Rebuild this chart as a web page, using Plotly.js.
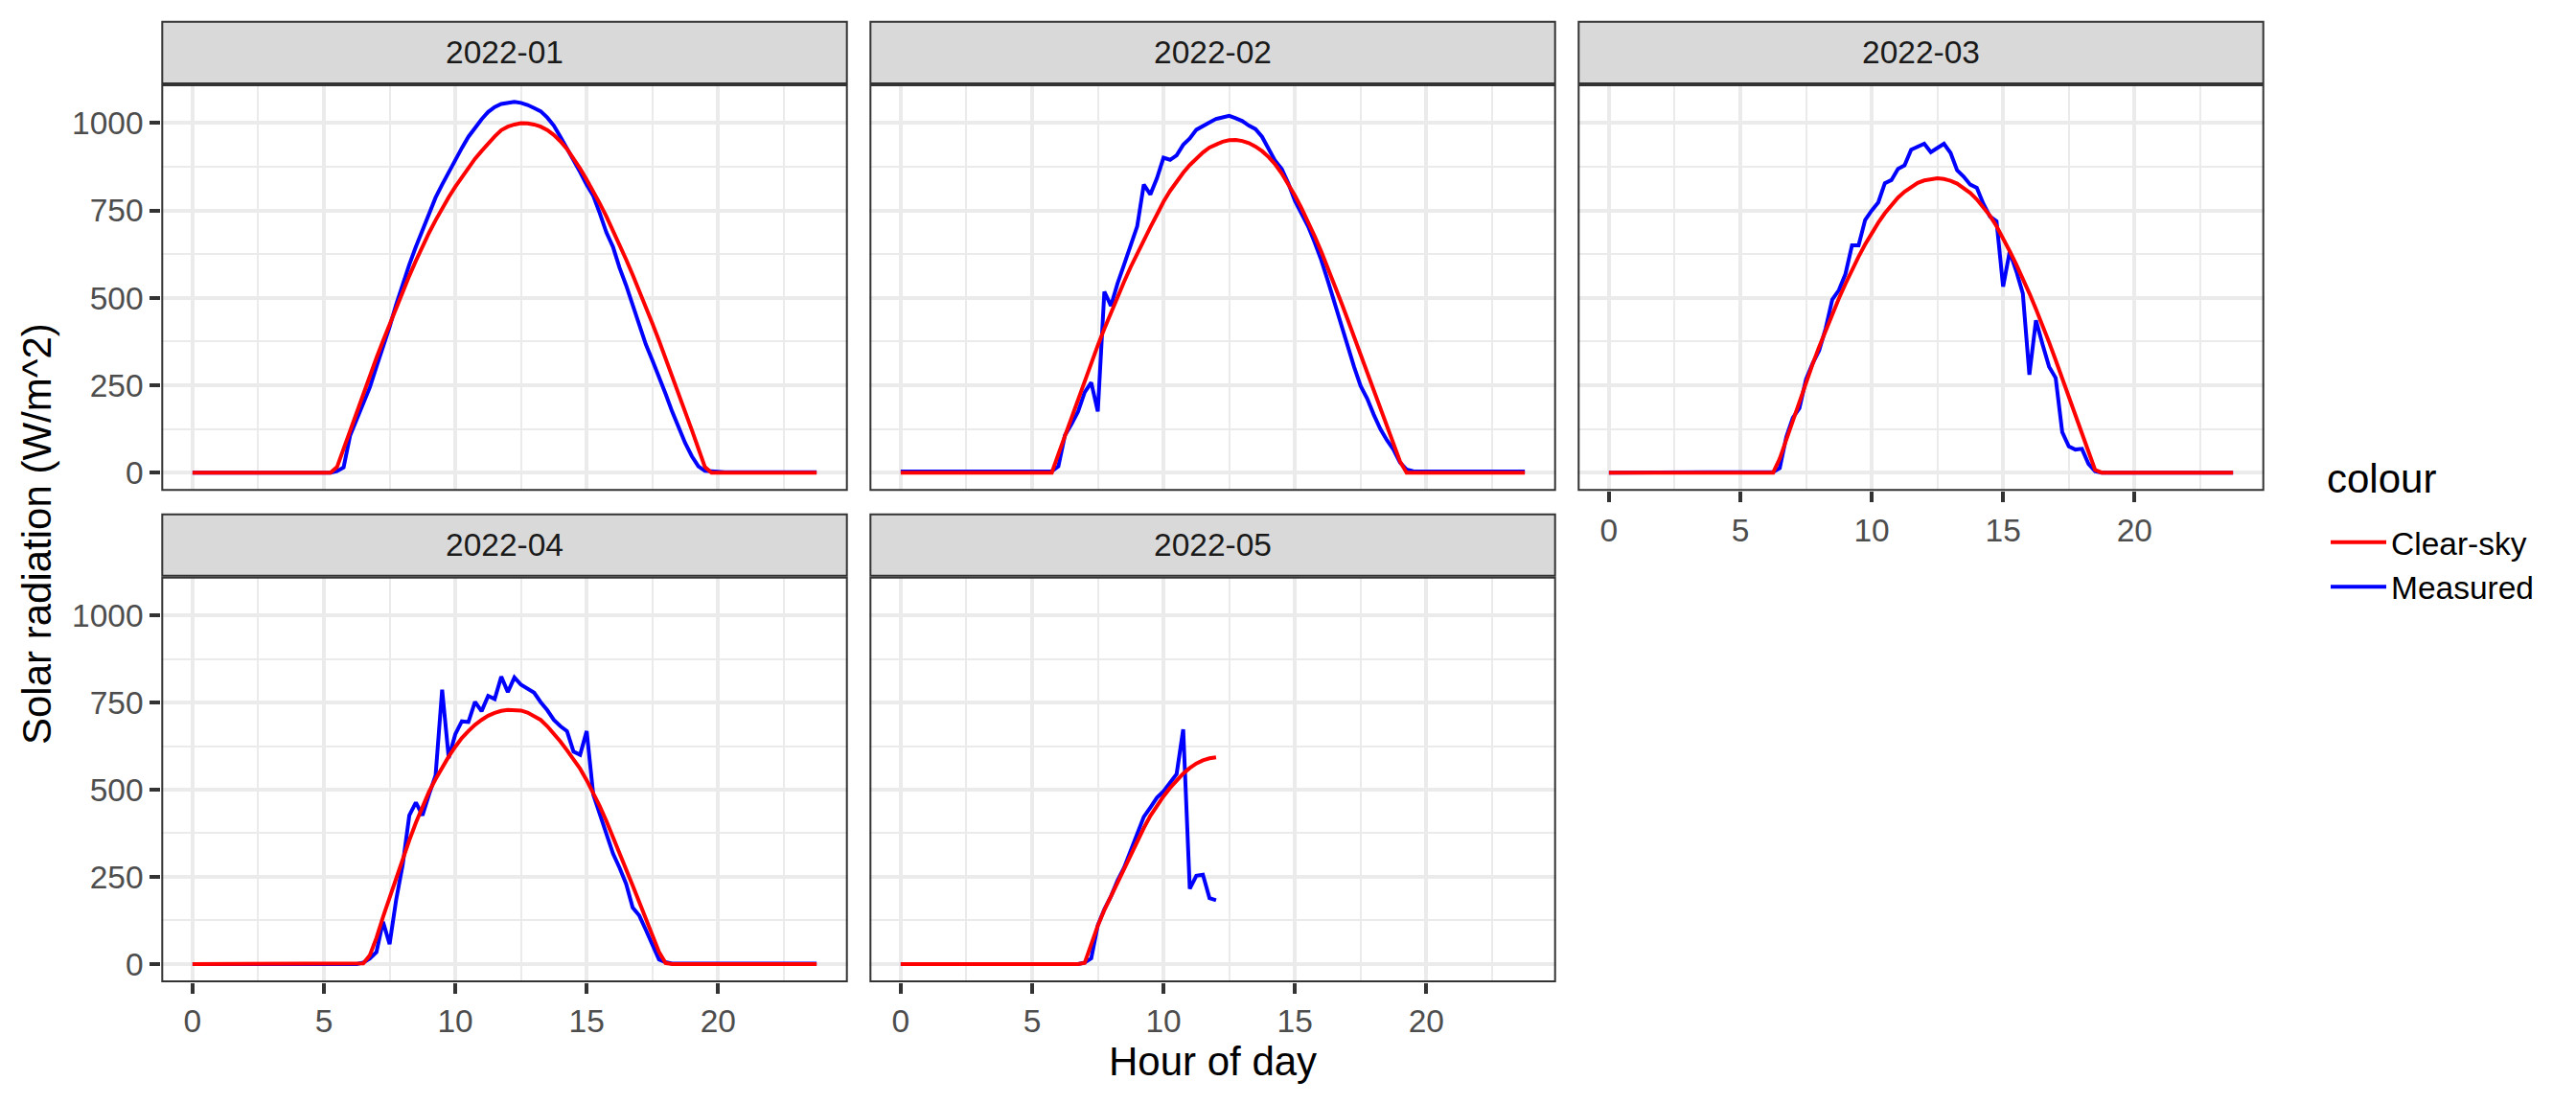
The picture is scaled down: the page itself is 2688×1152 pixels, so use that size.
<!DOCTYPE html>
<html>
<head>
<meta charset="utf-8">
<script src="https://cdn.plot.ly/plotly-3.0.1.min.js"></script>
<style>
html,body{margin:0;padding:0;background:#fff;}
#chart{width:2688px;height:1152px;}
</style>
</head>
<body>
<div id="chart"></div>
<script>
// ---------------- DATA ----------------
const hours = [0,0.25,0.5,0.75,1,1.25,1.5,1.75,2,2.25,2.5,2.75,3,3.25,3.5,3.75,4,4.25,4.5,4.75,
  5,5.25,5.5,5.75,6,6.25,6.5,6.75,7,7.25,7.5,7.75,8,8.25,8.5,8.75,9,9.25,9.5,9.75,
  10,10.25,10.5,10.75,11,11.25,11.5,11.75,12,12.25,12.5,12.75,13,13.25,13.5,13.75,14,14.25,14.5,14.75,
  15,15.25,15.5,15.75,16,16.25,16.5,16.75,17,17.25,17.5,17.75,18,18.25,18.5,18.75,19,19.25,19.5,19.75,
  20,20.25,20.5,20.75,21,21.25,21.5,21.75,22,22.25,22.5,22.75,23,23.25,23.5,23.75];

const months = ["2022-01","2022-02","2022-03","2022-04","2022-05"];
const seriesNames = ["Clear-sky","Measured"];

const jan_measured = [0,0,0,0,0,0,0,0,0,0, 0,0,0,0,0,0,0,0,0,0,
  0,0,4,15,107,153,194,244,303,358, 417,481,541,595,646,691,742,787,824,860,
  895,929,961,988,1011,1032,1046,1055,1059,1061, 1058,1052,1043,1034,1016,993,961,929,892,860,
  824,792,742,687,646,586,536,477,422,367, 321,276,226,175,130,84,47,18,5,3,
  1,1,1,1,1,1,1,1,1,1, 1,1,1,1,1,1];
const jan_clear = [0,0,0,0,0,0,0,0,0,0, 0,0,0,0,0,0,0,0,0,0,
  0,0,16,69,122,175,227,278,328,377, 425,472,518,563,606,647,686,722,756,788,
  818,845,872,898,920,942,962,980,990,996, 1000,999,996,990,980,966,948,926,900,870,
  838,805,770,733,694,653,610,566,521,474, 427,378,328,278,227,175,122,69,16,0,
  0,0,0,0,0,0,0,0,0,0, 0,0,0,0,0,0];

const feb_measured = [3,3,3,3,3,3,3,3,3,3, 3,3,3,3,3,3,3,3,3,3,
  3,3,3,4,18,107,139,175,230,258, 175,518,477,541,595,650,705,824,796,842,
  901,895,908,938,956,981,990,1002,1012,1016, 1021,1014,1006,993,983,961,929,892,869,828,
  778,742,705,659,609,550,486,431,367,303, 248,212,166,125,93,66,29,9,4,3,
  3,3,3,3,3,3,3,3,3,3, 3,3,3,3,3,3];
const feb_clear = [0,0,0,0,0,0,0,0,0,0, 0,0,0,0,0,0,0,0,0,0,
  0,0,0,0,53,106,159,211,263,314, 364,412,458,503,546,588,628,666,702,738,
  775,806,834,858,880,899,916,930,940,947, 951,952,949,943,933,920,903,882,856,826,
  793,757,718,677,633,587,539,490,440,389, 337,285,233,181,130,80,32,0,0,0,
  0,0,0,0,0,0,0,0,0,0, 0,0,0,0,0,0];

const mar_measured = [0,0,0,0,0,0,0,0,0,0, 0,0,0,0,0,0,0,0,0,0,
  0,0,0,0,0,2,13,102,157,184, 267,312,349,413,495,522,568,650,650,723,
  750,773,828,837,869,879,924,932,941,917, 929,941,915,865,847,824,815,769,733,719,
  532,632,577,513,280,436,367,303,271,116, 75,66,68,25,4,0,0,0,0,0,
  0,0,0,0,0,0,0,0,0,0, 0,0,0,0,0,0];
const mar_clear = [0,0,0,0,0,0,0,0,0,0, 0,0,0,0,0,0,0,0,0,0,
  0,0,0,0,0,0,40,95,150,205, 259,310,360,408,454,498,540,580,618,653,
  686,715,742,766,787,804,818,829,836,840, 842,840,835,827,815,800,782,760,735,705,
  672,634,596,557,513,468,422,373,322,268, 216,164,112,60,8,0,0,0,0,0,
  0,0,0,0,0,0,0,0,0,0, 0,0,0,0,0,0];

const apr_measured = [0,0,0,0,0,0,0,0,0,0, 0,0,0,0,0,0,0,0,0,0,
  0,0,0,0,0,0,4,16,34,121, 57,184,285,426,463,426,486,541,787,591,
  659,696,694,752,725,769,760,824,780,822, 801,789,778,751,728,700,682,668,609,600,
  668,486,431,376,317,276,230,162,139,98, 57,13,5,1,1,1,1,1,1,1,
  1,1,1,1,1,1,1,1,1,1, 1,1,1,1,1,1];
const apr_clear = [0,0,0,0,0,0,0,0,0,0, 0,0,0,0,0,0,0,0,0,0,
  0,0,0,0,0,0,2,25,75,135, 192,248,302,355,405,452,494,530,565,595,
  623,648,668,686,700,712,720,726,729,729, 727,721,712,700,682,661,638,613,588,560,
  527,492,452,410,365,318,270,225,178,130, 80,35,3,0,0,0,0,0,0,0,
  0,0,0,0,0,0,0,0,0,0, 0,0,0,0,0,0];

const may_measured = [0,0,0,0,0,0,0,0,0,0, 0,0,0,0,0,0,0,0,0,0,
  0,0,0,0,0,0,0,0,4,16, 111,157,194,239,276,326,372,422,449,477,
  495,522,545,673,216,253,256,189,183];
const may_clear = [0,0,0,0,0,0,0,0,0,0, 0,0,0,0,0,0,0,0,0,0,
  0,0,0,0,0,0,0,0,3,58, 110,155,195,232,270,310,350,390,425,455,
  481,505,527,546,562,575,584,590,593];

const xTickVals = [0,5,10,15,20];
const xTickText = ["0","5","10","15","20"];
const yTickVals = [0,250,500,750,1000];
const yTickText = ["0","250","500","750","1000"];

const measuredByMonth = [jan_measured, feb_measured, mar_measured, apr_measured, may_measured];
const clearByMonth = [jan_clear, feb_clear, mar_clear, apr_clear, may_clear];

// ---------------- LAYOUT ----------------
const W = 2688, H = 1152;
const FONT = "Liberation Sans, Arial, Helvetica, sans-serif";
const cols = [[168.3, 884.7], [907.3, 1623.7], [1646.3, 2362.7]];
const rowsPlot = [[88, 512.3], [601.7, 1025]];
const rowsStrip = [[21.7, 88], [535.7, 601.7]];
const panelPos = [[0,0],[0,1],[0,2],[1,0],[1,1]]; // [row, col]
const xBottom = [false, false, true, true, true];
const yLeft = [true, false, false, true, false];

const px = v => v / W;
const py = v => 1 - v / H;

const traces = [];
const layout = {
  width: W, height: H,
  margin: {l:0, r:0, t:0, b:0},
  paper_bgcolor: "#ffffff",
  plot_bgcolor: "#ffffff",
  font: {family: FONT, color: "#4D4D4D", size: 33.5},
  showlegend: true,
  legend: {
    font: {family: FONT, size: 33.5, color: "#000000"},
    x: px(2427), xanchor: "left",
    y: py(589.5), yanchor: "middle",
    bgcolor: "rgba(0,0,0,0)", borderwidth: 0,
    itemwidth: 58, tracegroupgap: 0
  },
  shapes: [],
  annotations: []
};

months.forEach((m, i) => {
  const [r, c] = panelPos[i];
  const n = i === 0 ? "" : String(i + 1);
  const xs = hours.slice(0, measuredByMonth[i].length);
  traces.push({
    type: "scatter", mode: "lines", x: xs, y: measuredByMonth[i],
    xaxis: "x" + n, yaxis: "y" + n,
    name: seriesNames[1], legendgroup: "m", legendrank: 2, showlegend: i === 0,
    line: {color: "#0000FF", width: 4}, hoverinfo: "skip"
  });
  traces.push({
    type: "scatter", mode: "lines", x: xs, y: clearByMonth[i],
    xaxis: "x" + n, yaxis: "y" + n,
    name: seriesNames[0], legendgroup: "c", legendrank: 1, showlegend: i === 0,
    line: {color: "#FF0000", width: 4}, hoverinfo: "skip"
  });

  layout["xaxis" + n] = {
    domain: [px(cols[c][0]), px(cols[c][1])],
    anchor: "y" + n,
    range: [-1.1875, 24.9375],
    tickmode: "array", tickvals: xTickVals, ticktext: xTickText,
    showticklabels: xBottom[i],
    ticks: xBottom[i] ? "outside" : "", ticklen: 11, tickwidth: 4, tickcolor: "#333333",
    tickfont: {family: FONT, size: 33.5, color: "#4D4D4D"},
    showgrid: true, gridcolor: "#EBEBEB", gridwidth: 4,
    minor: {tickmode: "array", tickvals: [2.5, 7.5, 12.5, 17.5, 22.5], showgrid: true, gridcolor: "#EBEBEB", gridwidth: 2, ticks: ""},
    zeroline: false, showline: false, fixedrange: true
  };
  layout["yaxis" + n] = {
    domain: [py(rowsPlot[r][1]), py(rowsPlot[r][0])],
    anchor: "x" + n,
    range: [-52.5, 1111],
    tickmode: "array", tickvals: yTickVals, ticktext: yTickText,
    showticklabels: yLeft[i],
    ticks: yLeft[i] ? "outside" : "", ticklen: 11, tickwidth: 4, tickcolor: "#333333",
    tickfont: {family: FONT, size: 33.5, color: "#4D4D4D"},
    showgrid: true, gridcolor: "#EBEBEB", gridwidth: 4,
    minor: {tickmode: "array", tickvals: [125, 375, 625, 875], showgrid: true, gridcolor: "#EBEBEB", gridwidth: 2, ticks: ""},
    zeroline: false, showline: false, fixedrange: true
  };

  // panel border
  layout.shapes.push({
    type: "rect", xref: "paper", yref: "paper", layer: "above",
    x0: px(cols[c][0] + 1), x1: px(cols[c][1] - 1),
    y0: py(rowsPlot[r][1] - 1), y1: py(rowsPlot[r][0] + 1),
    line: {color: "#333333", width: 2}, fillcolor: "rgba(0,0,0,0)"
  });
  // strip
  layout.shapes.push({
    type: "rect", xref: "paper", yref: "paper", layer: "above",
    x0: px(cols[c][0] + 1), x1: px(cols[c][1] - 1),
    y0: py(rowsStrip[r][1] - 1), y1: py(rowsStrip[r][0] + 1),
    line: {color: "#333333", width: 2}, fillcolor: "#D9D9D9"
  });
  layout.annotations.push({
    xref: "paper", yref: "paper",
    x: px((cols[c][0] + cols[c][1]) / 2), y: py((rowsStrip[r][0] + rowsStrip[r][1]) / 2),
    xanchor: "center", yanchor: "middle", showarrow: false,
    text: m, font: {family: FONT, size: 33.5, color: "#1A1A1A"}
  });
});

layout.annotations.push({
  xref: "paper", yref: "paper", x: px(1265), y: py(1107),
  xanchor: "center", yanchor: "middle", showarrow: false,
  text: "Hour of day", font: {family: FONT, size: 42, color: "#000000"}
});
layout.annotations.push({
  xref: "paper", yref: "paper", x: px(38), y: py(557),
  xanchor: "center", yanchor: "middle", showarrow: false, textangle: -90,
  text: "Solar radiation (W/m^2)", font: {family: FONT, size: 42, color: "#000000"}
});
layout.annotations.push({
  xref: "paper", yref: "paper", x: px(2426), y: py(499),
  xanchor: "left", yanchor: "middle", showarrow: false,
  text: "colour", font: {family: FONT, size: 42, color: "#000000"}
});

Plotly.newPlot("chart", traces, layout, {displayModeBar: false, staticPlot: true});
</script>
</body>
</html>
